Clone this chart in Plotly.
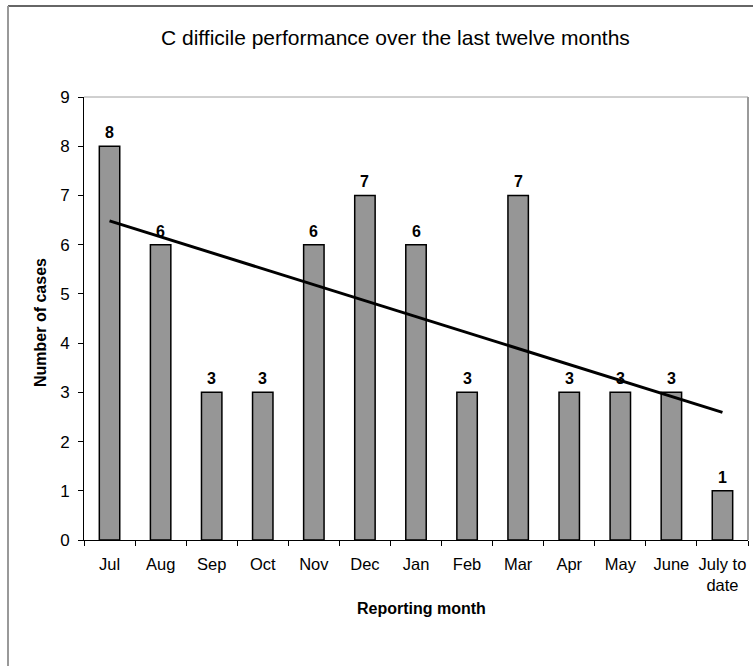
import numpy as np
import plotly.graph_objects as go

# Monthly C difficile case counts
months = ["Jul", "Aug", "Sep", "Oct", "Nov", "Dec", "Jan", "Feb", "Mar",
          "Apr", "May", "June", "July to<br>date"]
cases = [8, 6, 3, 3, 6, 7, 6, 3, 7, 3, 3, 3, 1]
y_ticks = list(range(0, 10))

# Linear trend fitted over the twelve months plus the partial month
idx = np.arange(len(cases))
slope, intercept = np.polyfit(idx, cases, 1)
trend_y = [intercept + slope * idx[0], intercept + slope * idx[-1]]

FONT = "Liberation Sans, Arial, sans-serif"

# Plot-area geometry in pixels
W, H = 753, 666
L, R, T, B = 84, 748, 97, 540
pw, ph = R - L, B - T


def px(x):
    return (x - L) / pw


def py(y):
    return (B - y) / ph


fig = go.Figure()
fig.add_trace(go.Bar(
    x=months, y=cases, width=0.4,
    marker=dict(color="#969696", line=dict(color="#000000", width=1.5)),
    hoverinfo="x+y", showlegend=False,
))
fig.add_trace(go.Scatter(
    x=[months[0], months[-1]], y=trend_y, mode="lines",
    line=dict(color="#000000", width=3), showlegend=False, hoverinfo="skip",
))

annotations = []
for m, v in zip(months, cases):
    annotations.append(dict(
        x=m, y=v, xref="x", yref="y", text=f"<b>{v}</b>", showarrow=False,
        yanchor="bottom", yshift=3,
        font=dict(family=FONT, size=16, color="#000000"),
    ))
annotations += [
    dict(x=px(395.5), y=py(37), xref="paper", yref="paper",
         text="C difficile performance over the last twelve months",
         showarrow=False, xanchor="center", yanchor="middle",
         font=dict(family=FONT, size=21, color="#000000")),
    dict(x=px(421), y=py(608), xref="paper", yref="paper",
         text="<b>Reporting month</b>", showarrow=False,
         xanchor="center", yanchor="middle",
         font=dict(family=FONT, size=16, color="#000000")),
    dict(x=px(40), y=py(323), xref="paper", yref="paper",
         text="<b>Number of cases</b>", showarrow=False, textangle=-90,
         xanchor="center", yanchor="middle",
         font=dict(family=FONT, size=16, color="#000000")),
]

shapes = [
    # plot-area border (top and right)
    dict(type="line", xref="paper", yref="paper", x0=0, x1=1, y0=1, y1=1,
         line=dict(color="#a0a0a0", width=1)),
    dict(type="line", xref="paper", yref="paper", x0=1, x1=1, y0=0, y1=1,
         line=dict(color="#9a9a9a", width=2)),
    # chart frame
    dict(type="line", xref="paper", yref="paper",
         x0=px(8), x1=px(780), y0=py(6), y1=py(6),
         line=dict(color="#333333", width=1.5)),
    dict(type="line", xref="paper", yref="paper",
         x0=px(8), x1=px(8), y0=py(6), y1=py(700),
         line=dict(color="#999999", width=2)),
]

fig.update_layout(
    width=W, height=H,
    margin=dict(l=L, r=W - R, t=T, b=H - B),
    paper_bgcolor="#ffffff", plot_bgcolor="#ffffff",
    bargap=0.6,
    annotations=annotations, shapes=shapes,
    font=dict(family=FONT, size=16, color="#000000"),
    xaxis=dict(
        type="category", tickson="boundaries", ticks="outside", ticklen=5,
        tickcolor="#000000", showline=True, linecolor="#000000", linewidth=1,
        showgrid=False, tickfont=dict(family=FONT, size=16.5),
        ticklabelstandoff=9, tickangle=0,
    ),
    yaxis=dict(
        range=[0, 9], tickvals=y_ticks, ticks="outside", ticklen=5,
        tickcolor="#000000", showline=True, linecolor="#000000", linewidth=1,
        showgrid=False, zeroline=False, tickfont=dict(family=FONT, size=17),
        ticklabelstandoff=5,
    ),
)

fig.write_html("out.html")
